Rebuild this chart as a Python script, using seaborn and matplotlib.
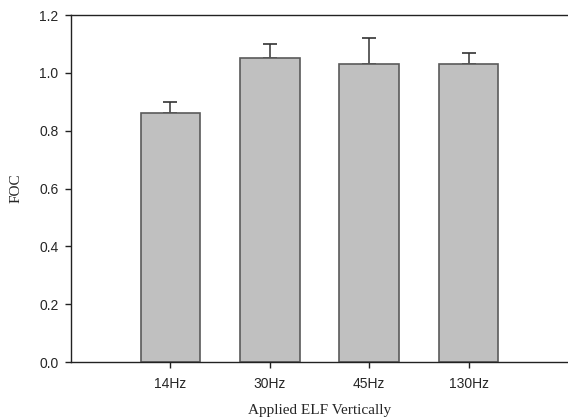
import numpy as np
import pandas as pd
import matplotlib
matplotlib.use("Agg")
import matplotlib.pyplot as plt
import seaborn as sns

# values
freqs = ['14Hz', '30Hz', '45Hz', '130Hz']
foc = [0.86, 1.05, 1.03, 1.03]
foc_err = [0.04, 0.05, 0.09, 0.04]

df = pd.DataFrame({'freq': freqs, 'foc': foc})

sns.set_style('ticks')
plt.rcParams['font.family'] = ['Liberation Sans', 'DejaVu Sans']

fig = plt.figure(figsize=(5.68, 4.20), dpi=100)
ax = fig.add_axes([0.125, 0.138, 0.875, 0.826])

sns.barplot(data=df, x='freq', y='foc', color='#c0c0c0', width=0.6,
            edgecolor='#5a5a5a', linewidth=1.2, saturation=1, ax=ax, zorder=2)

# one-sided (upper) error bars, drawn behind the bars so the lower cap hides
x = np.arange(len(freqs))
ax.errorbar(x, foc, yerr=[np.zeros(len(foc)), foc_err], fmt='none',
            ecolor='#333333', elinewidth=1.1, capsize=5, capthick=1.2, zorder=1)

ax.set_xlim(-1, 4)
ax.set_ylim(0, 1.2)
ax.set_yticks(np.arange(0, 1.21, 0.2))
ax.set_yticklabels([f'{v:.1f}' for v in np.arange(0, 1.21, 0.2)])

ax.spines['right'].set_visible(False)
for s in ['left', 'bottom', 'top']:
    ax.spines[s].set_color('#222222')
    ax.spines[s].set_linewidth(1.0)

ax.tick_params(direction='out', length=4, width=1, labelsize=10, color='#222222')
ax.tick_params(axis='x', pad=7)
ax.tick_params(axis='y', pad=5)
ax.set_xlabel('Applied ELF Vertically', family='Liberation Serif', fontsize=11, labelpad=9)
ax.set_ylabel('FOC', family='Liberation Serif', fontsize=11, labelpad=12)

fig.savefig('out.png', dpi=100)
